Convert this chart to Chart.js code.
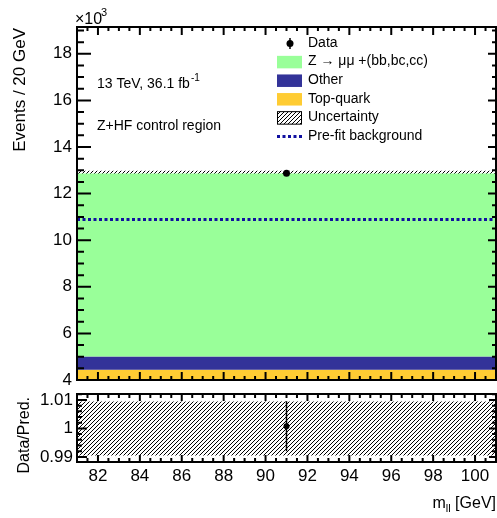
<!DOCTYPE html>
<html><head><meta charset="utf-8">
<script src="https://cdn.jsdelivr.net/npm/chart.js@4.4.1/dist/chart.umd.min.js"></script>
<style>
html,body{margin:0;padding:0;background:#fff;}
#wrap{position:relative;width:497px;height:518px;overflow:hidden;background:#fff;}
canvas{position:absolute;left:0;}
#main{top:0;}
#ratio{top:379px;}
</style></head><body>
<div id="wrap"><canvas id="main" width="497" height="395"></canvas><canvas id="ratio" width="497" height="139"></canvas></div>
<script>
// ---- data (events x 10^3 per 20 GeV bin) ----
const binEdges = [81, 101];
const topQuark = [4.44];
const other = [0.57];
const zHF = [7.85];
const uncertainty = [0.122];
const preFit = [10.89];
const dataX = [91];
const dataY = [12.87];
const dataErr = [0.113];
// ---- axes / labels ----
const yTicks = [4, 6, 8, 10, 12, 14, 16, 18];
const xTicks = [82, 84, 86, 88, 90, 92, 94, 96, 98, 100];
const ratioTicks = [0.99, 1, 1.01];
const ratioTickLabels = ['0.99', '1', '1.01'];
const legendLabels = ['Data', 'Z \u2192 \u03bc\u03bc +(bb,bc,cc)', 'Other', 'Top-quark', 'Uncertainty', 'Pre-fit background'];

const FONT = "'Liberation Sans', Arial, Helvetica, sans-serif";
const C_GREEN = '#99ff99', C_NAVY = '#333399', C_YELLOW = '#ffcc33', C_PRE = '#1010a0';

function stepPoints(vals) {
  const out = [];
  vals.forEach((v, i) => { out.push({x: binEdges[i], y: v}); out.push({x: binEdges[i + 1], y: v}); });
  return out;
}
const cum1 = topQuark.map(v => v);
const cum2 = cum1.map((v, i) => v + other[i]);
const total = cum2.map((v, i) => v + zHF[i]);
const uncUp = total.map((v, i) => v + uncertainty[i]);
const uncDn = total.map((v, i) => v - uncertainty[i]);
const ratioUp = total.map((v, i) => 1 + uncertainty[i] / v);
const ratioDn = total.map((v, i) => 1 - uncertainty[i] / v);
const ratioPts = dataX.map((x, i) => ({x: x, y: dataY[i] / total[0]}));
const ratioErr = dataErr.map(e => e / total[0]);

function makeHatch(ctx) {
  const c = document.createElement('canvas'); c.width = 4; c.height = 4;
  const g = c.getContext('2d');
  g.strokeStyle = '#000'; g.lineWidth = 1;
  g.beginPath();
  g.moveTo(0, 4); g.lineTo(4, 0);
  g.moveTo(-1, 1); g.lineTo(1, -1);
  g.moveTo(3, 5); g.lineTo(5, 3);
  g.stroke();
  return ctx.createPattern(c, 'repeat');
}

function range(min, max, step) {
  const out = [];
  const n0 = Math.ceil(min / step - 1e-9), n1 = Math.floor(max / step + 1e-9);
  for (let n = n0; n <= n1; n++) out.push(+(n * step).toFixed(6));
  return out;
}
function isIn(arr, v) { return arr.some(m => Math.abs(m - v) < 1e-9); }

function drawFrame(chart, cfg) {
  const ctx = chart.ctx, a = chart.chartArea, xs = chart.scales.x, ys = chart.scales.y;
  ctx.save();
  ctx.strokeStyle = '#000'; ctx.lineWidth = 2;
  ctx.beginPath();
  range(ys.min, ys.max, cfg.yMinorStep).forEach(v => {
    const py = ys.getPixelForValue(v), mj = isIn(cfg.yMajor, v);
    ctx.moveTo(a.left, py); ctx.lineTo(a.left + (mj ? cfg.lMaj : cfg.lMin), py);
    ctx.moveTo(a.right, py); ctx.lineTo(a.right - (mj ? cfg.rMaj : cfg.rMin), py);
  });
  range(xs.min, xs.max, cfg.xMinorStep).forEach(v => {
    const px = xs.getPixelForValue(v), mj = isIn(cfg.xMajor, v);
    ctx.moveTo(px, a.bottom); ctx.lineTo(px, a.bottom - (mj ? cfg.bMaj : cfg.bMin));
    ctx.moveTo(px, a.top); ctx.lineTo(px, a.top + (mj ? cfg.tMaj : cfg.tMin));
  });
  ctx.stroke();
  ctx.strokeRect(a.left, a.top, a.right - a.left, a.bottom - a.top);
  ctx.restore();
}

const errorBars = {
  id: 'errorBars',
  beforeDatasetDraw(chart, args) {
    const ds = chart.data.datasets[args.index];
    if (!ds.errors) return;
    const xs = chart.scales.x, ys = chart.scales.y, ctx = chart.ctx;
    ctx.save(); ctx.strokeStyle = '#000'; ctx.lineWidth = 1.5;
    ds.data.forEach((p, i) => {
      const px = xs.getPixelForValue(p.x);
      ctx.beginPath();
      ctx.moveTo(px, ys.getPixelForValue(p.y - ds.errors[i]));
      ctx.lineTo(px, ys.getPixelForValue(p.y + ds.errors[i]));
      ctx.stroke();
    });
    ctx.restore();
  }
};

const mainCtx = document.getElementById('main').getContext('2d');
const ratioCtx = document.getElementById('ratio').getContext('2d');
const hatchMain = makeHatch(mainCtx);
const hatchRatio = makeHatch(ratioCtx);

const mainDecor = {
  id: 'mainDecor',
  afterDraw(chart) {
    drawFrame(chart, {yMajor: yTicks, yMinorStep: 0.5, xMajor: xTicks, xMinorStep: 0.5,
      lMaj: 14, lMin: 7, rMaj: 8, rMin: 4, bMaj: 8, bMin: 4, tMaj: 8, tMin: 4});
    const ctx = chart.ctx;
    ctx.save();
    ctx.fillStyle = '#000';
    ctx.save(); ctx.translate(20, 28); ctx.rotate(-Math.PI / 2);
    ctx.font = '17px ' + FONT; ctx.textAlign = 'right'; ctx.textBaseline = 'middle';
    ctx.fillText('Events / 20 GeV', 0, 0); ctx.restore();
    ctx.textAlign = 'left'; ctx.textBaseline = 'alphabetic';
    ctx.font = '16px ' + FONT; ctx.fillText('\u00d710', 75, 24);
    ctx.font = '11px ' + FONT; ctx.fillText('3', 101, 16);
    ctx.textBaseline = 'middle';
    ctx.font = '14px ' + FONT;
    ctx.fillText('13 TeV, 36.1 fb', 97, 84);
    const w = ctx.measureText('13 TeV, 36.1 fb').width;
    ctx.font = '10px ' + FONT; ctx.fillText('-1', 97 + w + 1, 78);
    ctx.font = '14px ' + FONT; ctx.fillText('Z+HF control region', 97, 126);
    const bx0 = 277, bx1 = 302, tx = 308;
    const rows = legendLabels.map((_, i) => 43.5 + 18.6 * i);
    ctx.beginPath(); ctx.arc(290, rows[0], 3.5, 0, 2 * Math.PI); ctx.fill();
    ctx.strokeStyle = '#000'; ctx.lineWidth = 1.5;
    ctx.beginPath(); ctx.moveTo(290, rows[0] - 5.5); ctx.lineTo(290, rows[0] + 5.5); ctx.stroke();
    [[C_GREEN, 1], [C_NAVY, 2], [C_YELLOW, 3]].forEach(([c, i]) => {
      ctx.fillStyle = c; ctx.fillRect(bx0, rows[i] - 6.25, bx1 - bx0, 12.5);
    });
    ctx.fillStyle = hatchMain; ctx.fillRect(bx0, rows[4] - 6.25, bx1 - bx0, 12.5);
    ctx.strokeStyle = '#000'; ctx.lineWidth = 1;
    ctx.strokeRect(bx0 + 0.5, rows[4] - 6.25, bx1 - bx0 - 1, 12.5);
    ctx.strokeStyle = C_PRE; ctx.lineWidth = 3; ctx.setLineDash([3, 2.5]);
    ctx.beginPath(); ctx.moveTo(bx0, rows[5]); ctx.lineTo(bx1, rows[5]); ctx.stroke();
    ctx.setLineDash([]);
    ctx.fillStyle = '#000'; ctx.font = '14px ' + FONT; ctx.textBaseline = 'middle';
    legendLabels.forEach((t, i) => ctx.fillText(t, tx, rows[i] - 0.5));
    ctx.restore();
  }
};

const ratioDecor = {
  id: 'ratioDecor',
  afterDraw(chart) {
    drawFrame(chart, {yMajor: ratioTicks, yMinorStep: 0.002, xMajor: xTicks, xMinorStep: 0.5,
      lMaj: 10, lMin: 5, rMaj: 7, rMin: 4, bMaj: 7, bMin: 4, tMaj: 7, tMin: 4});
    const ctx = chart.ctx, a = chart.chartArea;
    ctx.save(); ctx.fillStyle = '#000';
    ctx.save(); ctx.translate(25, a.top + 3); ctx.rotate(-Math.PI / 2);
    ctx.font = '16px ' + FONT; ctx.textAlign = 'right'; ctx.textBaseline = 'middle';
    ctx.fillText('Data/Pred.', 0, 0); ctx.restore();
    ctx.textBaseline = 'alphabetic'; ctx.textAlign = 'left';
    const big = '16px ' + FONT, small = '11px ' + FONT;
    ctx.font = big; const wm = ctx.measureText('m').width; const wg = ctx.measureText(' [GeV]').width;
    ctx.font = small; const wl = ctx.measureText('ll').width;
    let x = 496 - (wm + wl + wg), y = 129;
    ctx.font = big; ctx.fillText('m', x, y); x += wm;
    ctx.font = small; ctx.fillText('ll', x, y + 4); x += wl;
    ctx.font = big; ctx.fillText(' [GeV]', x, y);
    ctx.restore();
  }
};

const tickFont = {family: FONT, size: 17, lineHeight: 1};
const noGrid = {display: false, drawTicks: false, tickLength: 0};

new Chart(mainCtx, {
  type: 'line',
  data: {datasets: [
    {label: 'Data', data: dataX.map((x, i) => ({x: x, y: dataY[i]})), errors: dataErr, showLine: false,
     pointRadius: 3.5, pointBackgroundColor: '#000', pointBorderWidth: 0, borderColor: '#000'},
    {label: 'Pre-fit background', data: stepPoints(preFit), borderColor: C_PRE, borderWidth: 3,
     borderDash: [3, 2.5], fill: false, pointRadius: 0},
    {label: 'Z+HF', data: stepPoints(total), fill: '+1', backgroundColor: C_GREEN, borderWidth: 0, pointRadius: 0},
    {label: 'Other', data: stepPoints(cum2), fill: '+1', backgroundColor: C_NAVY, borderWidth: 0, pointRadius: 0},
    {label: 'Top-quark', data: stepPoints(cum1), fill: 'start', backgroundColor: C_YELLOW, borderWidth: 0, pointRadius: 0},
    {label: 'Unc up', data: stepPoints(uncUp), fill: '+1', backgroundColor: hatchMain, borderWidth: 0, pointRadius: 0},
    {label: 'Unc down', data: stepPoints(uncDn), fill: false, borderWidth: 0, pointRadius: 0}
  ]},
  options: {
    responsive: false, animation: false, devicePixelRatio: 1,
    layout: {autoPadding: false, padding: {left: 0, right: 1, top: 27, bottom: 15}},
    plugins: {legend: {display: false}, tooltip: {enabled: false}},
    elements: {line: {tension: 0}},
    scales: {
      x: {type: 'linear', min: 81, max: 101, display: false},
      y: {type: 'linear', min: 4, max: 19.15, grid: noGrid, border: {display: false},
          afterBuildTicks: s => { s.ticks = yTicks.map(v => ({value: v})); },
          afterFit: s => { s.width = 77; },
          ticks: {padding: 5, color: '#000', autoSkip: false, font: tickFont, callback: v => String(v)}}
    }
  },
  plugins: [errorBars, mainDecor]
});

new Chart(ratioCtx, {
  type: 'line',
  data: {datasets: [
    {label: 'Data/Pred.', data: ratioPts, errors: ratioErr, showLine: false,
     pointRadius: 3, pointBackgroundColor: '#000', pointBorderWidth: 0, borderColor: '#000'},
    {label: 'Unc up', data: stepPoints(ratioUp), fill: '+1', backgroundColor: hatchRatio, borderWidth: 0, pointRadius: 0},
    {label: 'Unc down', data: stepPoints(ratioDn), fill: false, borderWidth: 0, pointRadius: 0}
  ]},
  options: {
    responsive: false, animation: false, devicePixelRatio: 1,
    layout: {autoPadding: false, padding: {left: 0, right: 1, top: 15, bottom: 0}},
    plugins: {legend: {display: false}, tooltip: {enabled: false}},
    elements: {line: {tension: 0}},
    scales: {
      x: {type: 'linear', min: 81, max: 101, grid: noGrid, border: {display: false},
          afterBuildTicks: s => { s.ticks = xTicks.map(v => ({value: v})); },
          afterFit: s => { s.height = 56; },
          ticks: {padding: 5.5, maxRotation: 0, autoSkip: false, color: '#000', font: tickFont, callback: v => String(v)}},
      y: {type: 'linear', min: 0.9882, max: 1.0121, grid: noGrid, border: {display: false},
          afterBuildTicks: s => { s.ticks = ratioTicks.map(v => ({value: v})); },
          afterFit: s => { s.width = 77; },
          ticks: {padding: 4, color: '#000', autoSkip: false, font: tickFont, callback: (v, i) => ratioTickLabels[i]}}
    }
  },
  plugins: [errorBars, ratioDecor]
});
</script>
</body></html>
